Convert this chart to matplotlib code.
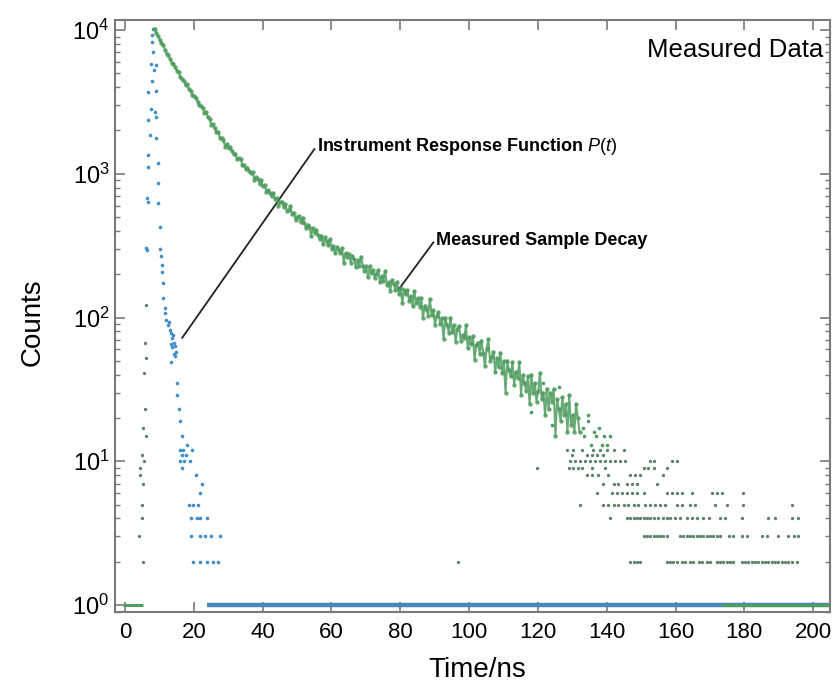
import numpy as np
import matplotlib
matplotlib.use("Agg")
import matplotlib.pyplot as plt

# ------------------------------------------------------------------ data
# measured sample decay (dense band), channel grid
decay_t0 = 8.6
decay_dt = 0.5
decay_counts = [
    10230, 9484, 9148, 8582, 8080, 7844, 7299, 6856, 6672, 6330,
    5899, 5834, 5528, 5221, 5093, 4732, 4592, 4446, 4141, 4188,
    3875, 3758, 3544, 3495, 3386, 3173, 2991, 2947, 2846, 2665,
    2706, 2472, 2391, 2189, 2203, 2066, 1955, 1948, 1781, 1761,
    1714, 1545, 1611, 1511, 1534, 1437, 1368, 1378, 1260, 1277,
    1275, 1157, 1157, 1077, 1105, 1052, 1006, 1027, 910, 949,
    914, 855, 906, 822, 834, 750, 772, 739, 700, 734,
    672, 678, 596, 636, 635, 586, 616, 550, 561, 596,
    523, 536, 477, 502, 508, 459, 496, 451, 420, 443,
    429, 371, 420, 387, 407, 375, 351, 371, 322, 361,
    338, 317, 352, 301, 314, 281, 309, 293, 281, 304,
    239, 281, 263, 275, 241, 269, 254, 224, 250, 229,
    263, 228, 212, 227, 192, 229, 205, 215, 188, 201,
    215, 176, 195, 179, 212, 169, 176, 154, 181, 171,
    156, 177, 145, 160, 126, 156, 145, 155, 130, 140,
    120, 152, 126, 136, 119, 137, 99, 121, 115, 103,
    135, 104, 112, 89, 103, 109, 90, 99, 71, 100,
    89, 78, 100, 79, 88, 68, 83, 87, 69, 76,
    72, 88, 61, 73, 65, 74, 51, 64, 67, 56,
    69, 57, 46, 60, 71, 50, 53, 58, 42, 52,
    45, 57, 41, 50, 30, 50, 43, 39, 49, 34,
    42, 38, 49, 29, 40, 35, 31, 39, 25, 40,
    30, 35, 26, 31, 41, 27, 30, 21, 32, 23,
    30, 26, 32, 15, 27, 23, 19, 28, 21, 25,
    16, 29, 18, 21, 16, 25, 20, 16,
]
decay_t = decay_t0 + decay_dt * np.arange(len(decay_counts))

# scattered points where the band breaks up into discrete levels
fringe_t = [133.0, 133.5, 134.6, 134.6, 135.5, 136.2, 137.0, 137.8, 138.5,
            139.2, 140.0, 141.0, 126.0, 124.2, 121.5, 118.0]
fringe_counts = [17, 15, 21, 19, 13, 16, 15, 17, 13, 15, 13, 15, 33, 18, 35, 22]

# sample decay: low-count tail (time positions of points at each count level)
tail_c2 = [96.9, 146.8, 147.8, 148.7, 149.7, 157.5, 158.4, 159.4, 160.4, 161.8,
           162.8, 164.2, 165.2, 166.7, 167.6, 169.1, 170.1, 172.0, 173.0, 173.9,
           174.9, 175.9, 176.8, 179.3, 180.2, 181.2, 182.2, 183.1, 184.1, 185.1,
           186.0, 187.0, 188.0, 188.9, 189.9, 190.9, 191.8, 192.8, 193.8, 195.3]
tail_c3 = [150.7, 151.7, 152.6, 153.6, 154.6, 155.5, 156.5, 157.5, 161.3, 162.3,
           163.3, 164.2, 165.2, 166.2, 167.2, 168.1, 169.1, 170.1, 171.0, 172.0,
           173.0, 175.4, 176.8, 179.3, 180.7, 185.1, 186.5, 189.9, 192.8, 194.3, 195.7]
tail_c4 = [141.0, 145.8, 146.8, 147.8, 148.7, 149.7, 150.7, 151.7, 152.6, 153.6,
           155.0, 156.5, 157.5, 158.4, 159.9, 161.3, 163.3, 164.7, 166.2, 168.1,
           169.6, 173.0, 174.4, 179.3, 187.0, 189.0, 193.8, 195.7]
tail_c5 = [132.3, 139.0, 140.5, 142.0, 143.4, 144.9, 146.3, 147.8, 149.2, 151.2,
           152.6, 154.1, 155.5, 157.0, 160.4, 161.8, 164.2, 165.7, 171.5, 174.9,
           179.7, 193.8]
tail_c6 = [137.1, 141.5, 142.9, 144.4, 145.8, 147.3, 148.7, 150.7, 157.5, 158.9,
           160.4, 161.8, 164.7, 170.5, 172.0, 173.4, 179.7]
tail_c7 = [139.0, 142.0, 143.4, 145.8, 147.3, 148.7, 154.6]
tail_c8 = [134.2, 135.7, 137.6, 140.5, 146.8, 148.3, 149.7, 156.5]
tail_c9 = [119.7, 128.9, 130.3, 131.8, 132.8, 135.7, 139.5, 150.7, 152.1, 153.6, 157.5]
tail_c10 = [129.4, 130.8, 132.3, 133.7, 135.2, 136.6, 138.1, 139.5, 141.0, 142.4,
            143.9, 145.3, 152.6, 153.6, 158.9, 160.4]
tail_c11 = [129.8, 134.2, 135.7, 137.1, 139.0]
tail_c12 = [128.4, 130.3, 132.8, 136.1, 138.1, 140.0, 142.0, 144.9]

# sample decay: rising edge
rise_t = [6.1, 5.8, 6.1, 5.5, 5.8, 5.2, 6.1, 4.9, 5.5, 4.4, 4.4, 5.2, 4.9, 4.9, 4.1, 5.2]
rise_counts = [122, 66, 52, 41, 23, 17, 15, 11, 10, 9, 8, 7, 5, 4, 3, 2]

# instrument response function P(t)
irf_t = [8.2, 7.8, 8.0, 8.2, 7.6, 8.9, 8.4, 7.8, 6.8, 9.1,
         7.6, 8.6, 9.1, 6.8, 7.2, 9.1, 6.8, 9.7, 6.8, 9.7,
         6.3, 6.8, 9.7, 10.2, 6.1, 6.5, 10.2, 10.4, 10.7, 10.7,
         11.2, 11.2, 11.7, 11.7, 12.0, 12.5, 12.7, 13.2, 13.4, 13.9,
         13.6, 14.2, 14.6, 13.8, 14.9, 14.2, 13.4, 14.6, 13.4, 15.1,
         15.1, 15.6, 16.1, 16.6, 17.9, 16.1, 17.0, 19.4, 16.6, 17.6,
         16.1, 17.3, 19.0, 16.6, 20.6, 22.4, 21.8, 18.6, 19.8, 21.2,
         19.2, 20.9, 21.8, 23.8, 19.2, 21.8, 23.3, 25.0, 27.6, 19.8,
         21.8, 23.8, 25.6, 27.1]
irf_counts = [10180, 9227, 8286, 6990, 5805, 5684, 5273, 4393, 3693, 3751,
              2813, 2695, 2498, 2370, 1847, 1777, 1349, 1190, 1120, 857,
              674, 640, 629, 424, 305, 294, 300, 266, 232, 206,
              174, 137, 117, 107, 96, 88, 93, 82, 78, 75,
              72, 67, 63, 62, 58, 56, 65, 54, 49, 35,
              29, 23, 19, 15, 13, 12, 12, 12, 11, 11,
              10, 10, 10, 9, 8, 7, 6, 5, 5, 5,
              4, 4, 4, 4, 3, 3, 3, 3, 3, 2,
              2, 2, 2, 2]

# channels sitting at the floor value of 1 count (start, end in ns)
sample_floor_spans = [(-0.6, 5.2), (173.5, 204.9)]
irf_floor_span = (23.8, 204.9)

x_ticks = [0, 20, 40, 60, 80, 100, 120, 140, 160, 180, 200]

# ------------------------------------------------------------------ style
plt.rcParams['font.family'] = ['Liberation Sans', 'DejaVu Sans']
plt.rcParams['mathtext.fontset'] = 'custom'
plt.rcParams['mathtext.rm'] = 'Liberation Sans'
plt.rcParams['mathtext.it'] = 'Liberation Sans:italic'

GREEN = '#4f9d5f'
GREEN_DARK = '#5d8368'
BLUE = '#3f8fca'
BLUE_LINE = '#4a86b6'
SPINE = '#7a7a7a'

fig = plt.figure(figsize=(8.38, 6.91), dpi=100)
ax = fig.add_axes([0.1372, 0.1143, 0.8533, 0.8568])

# floor lines at 1 count
ax.hlines(1, irf_floor_span[0], irf_floor_span[1], color=BLUE_LINE, lw=3.2, zorder=2)
for s, e in sample_floor_spans:
    ax.hlines(1, s, e, color=GREEN, lw=2.2, zorder=3)

# IRF points
ax.plot(irf_t, irf_counts, ls='none', marker='o', ms=2.6, mec='none',
        mfc=BLUE, zorder=3)

# sample decay band (dense channels appear as a continuous trace)
ax.plot(decay_t, decay_counts, ls='-', lw=1.5, color=GREEN, alpha=0.85,
        marker='o', ms=3.2, mec='none', mfc=GREEN, zorder=4)
ax.plot(fringe_t, fringe_counts, ls='none', marker='o', ms=2.6, mec='none',
        mfc=GREEN, zorder=4)

# sample rising edge and tail levels
ax.plot(rise_t, rise_counts, ls='none', marker='o', ms=2.4, mec='none',
        mfc=GREEN_DARK, zorder=4)
tail_rows = [(2, tail_c2), (3, tail_c3), (4, tail_c4), (5, tail_c5), (6, tail_c6),
             (7, tail_c7), (8, tail_c8), (9, tail_c9), (10, tail_c10),
             (11, tail_c11), (12, tail_c12)]
for level, ts in tail_rows:
    ax.plot(ts, [level] * len(ts), ls='none', marker='o', ms=2.4, mec='none',
            mfc=GREEN_DARK, zorder=4)

ax.set_yscale('log')
ax.set_xlim(-2.9, 204.9)
ax.set_ylim(0.894, 11740)
ax.set_xticks(x_ticks)
ax.set_xticklabels([str(v) for v in x_ticks])

for sp in ax.spines.values():
    sp.set_color(SPINE)
    sp.set_linewidth(1.5)
ax.tick_params(which='major', direction='in', length=7, width=1.2, color=SPINE,
               labelsize=16, top=True, right=True, pad=7)
ax.tick_params(which='minor', direction='in', length=3.5, width=1.0, color=SPINE,
               left=True, right=True)
ax.tick_params(axis='y', which='major', labelsize=17, pad=4)
ax.tick_params(axis='x', which='minor', bottom=False, top=False)

fig.text(33 / 838, 1 - 322 / 691, 'Counts', rotation=90, ha='center', va='center',
         fontsize=20)
fig.text(477 / 838, 1 - 670 / 691, 'Time/ns', ha='center', va='center', fontsize=20)

ax.text(0.990, 0.949, 'Measured Data', transform=ax.transAxes, ha='right',
        va='center', fontsize=18.5)

narrow = ['Liberation Sans Narrow', 'Liberation Sans', 'DejaVu Sans']
ax.annotate('Instrument Response Function $\\mathit{P(t)}$', xy=(16.6, 72),
            xytext=(55.9, 1535), ha='left', va='center', fontsize=13,
            family=narrow, weight='bold',
            arrowprops=dict(arrowstyle='-', color='#222222', lw=1.3,
                            shrinkA=0, shrinkB=0, relpos=(0, 0.6)))
ax.annotate('Measured Sample Decay', xy=(79.4, 155), xytext=(90.5, 346),
            ha='left', va='center', fontsize=13, family=narrow, weight='bold',
            arrowprops=dict(arrowstyle='-', color='#222222', lw=1.3,
                            shrinkA=0, shrinkB=0, relpos=(0, 0.6)))

fig.savefig('out.png', dpi=100)
